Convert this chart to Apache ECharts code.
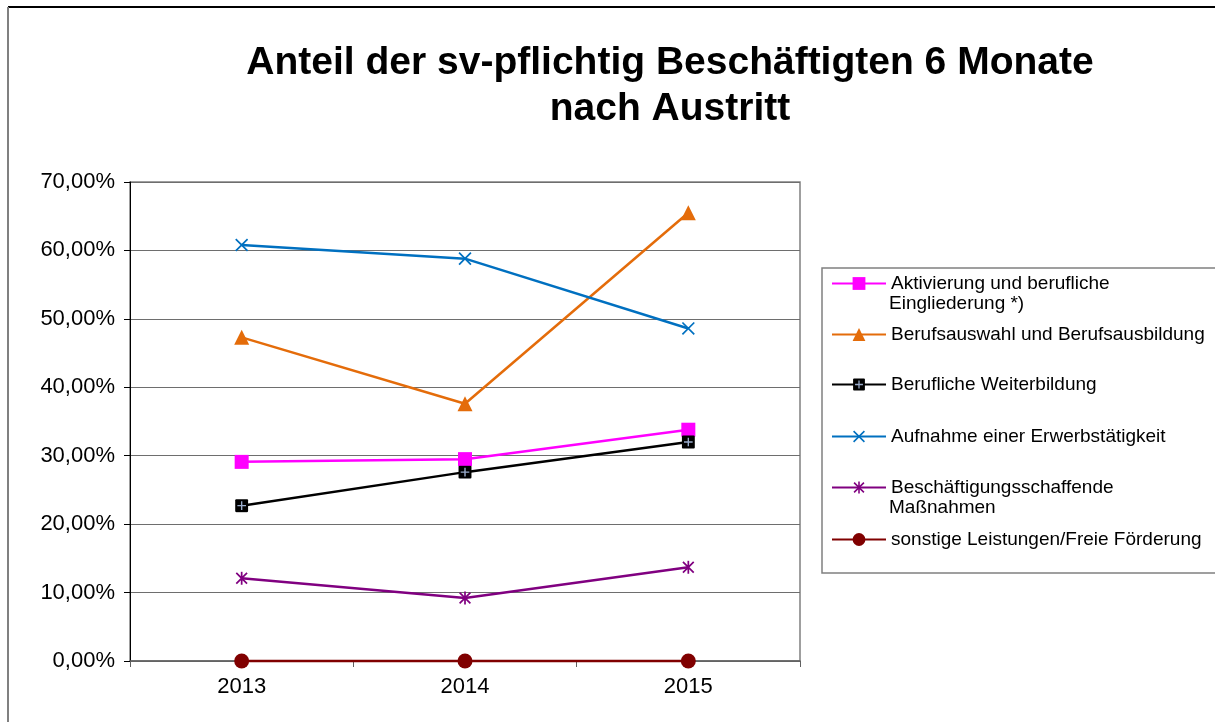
<!DOCTYPE html>
<html>
<head>
<meta charset="utf-8">
<script src="https://cdn.jsdelivr.net/npm/echarts@6/dist/echarts.min.js"></script>
<style>html,body{margin:0;padding:0;background:#fff;}#chart{width:1215px;height:722px;}</style>
</head>
<body>
<div id="chart"></div>
<script>
const categories = ['2013', '2014', '2015'];
const seriesNames = [
  'Aktivierung und berufliche Eingliederung *)',
  'Berufsauswahl und Berufsausbildung',
  'Berufliche Weiterbildung',
  'Aufnahme einer Erwerbstätigkeit',
  'Beschäftigungsschaffende Maßnahmen',
  'sonstige Leistungen/Freie Förderung'
];
const aktivierung = [29.1, 29.5, 33.8];
const berufsauswahl = [47.3, 37.6, 65.5];
const weiterbildung = [22.7, 27.6, 32.0];
const aufnahme = [60.8, 58.8, 48.6];
const beschaeftigung = [12.1, 9.2, 13.7];
const sonstige = [0, 0, 0];
const legendFirstLines = ['Aktivierung und berufliche', 'Berufsauswahl und Berufsausbildung', 'Berufliche Weiterbildung', 'Aufnahme einer Erwerbstätigkeit', 'Beschäftigungsschaffende', 'sonstige Leistungen/Freie Förderung'];
const legendSecondLines = ['Eingliederung *)', '', '', '', 'Maßnahmen', ''];
const titleText = 'Anteil der sv-pflichtig Beschäftigten 6 Monate\nnach Austritt';

function svgUri(svg) { return 'image://data:image/svg+xml;charset=utf-8,' + encodeURIComponent(svg); }
const plusSquare = svgUri('<svg xmlns="http://www.w3.org/2000/svg" width="26" height="26" viewBox="0 0 26 26"><rect x="1" y="1" width="24" height="24" rx="2" fill="#000"/><path d="M13 5 V21 M5 13 H21" stroke="#9aaccc" stroke-width="2.6"/></svg>');
const xMark = svgUri('<svg xmlns="http://www.w3.org/2000/svg" width="26" height="26" viewBox="0 0 26 26"><path d="M2 2 L24 24 M24 2 L2 24" stroke="#0070C0" stroke-width="3.2"/></svg>');
const starMark = svgUri('<svg xmlns="http://www.w3.org/2000/svg" width="26" height="26" viewBox="0 0 26 26"><path d="M3 3 L23 23 M23 3 L3 23 M13 1 V25" stroke="#800080" stroke-width="3.2"/></svg>');

const colors = ['#FF00FF', '#E46C0A', '#000000', '#0070C0', '#800080', '#800000'];
const datas = [aktivierung, berufsauswahl, weiterbildung, aufnahme, beschaeftigung, sonstige];
const symbols = ['rect', 'triangle', plusSquare, xMark, starMark, 'circle'];
const symbolSizes = [14, 15, 14, 14, 14, 15];
const legendCenters = [282, 333, 383, 435, 486, 538];

const font = '"Liberation Sans", Arial, sans-serif';
const series = datas.map((d, i) => ({
  name: seriesNames[i],
  type: 'line',
  data: d,
  symbol: symbols[i],
  symbolSize: symbolSizes[i],
  clip: false,
  lineStyle: { color: colors[i], width: 2.5 },
  itemStyle: { color: colors[i] },
  z: 10 + i
}));

const legends = seriesNames.map((n, i) => ({
  data: [n],
  left: 831,
  top: legendCenters[i] - 8,
  orient: 'vertical',
  padding: 0,
  itemWidth: 54,
  itemHeight: 16,
  selectedMode: false,
  formatter: () => legendFirstLines[i],
  textStyle: { fontFamily: font, fontSize: 19, color: '#000', lineHeight: 16, padding: [0, 0, 0, 0] }
}));

const graphics = [
  { type: 'line', shape: { x1: 8, y1: 7, x2: 1215, y2: 7 }, style: { stroke: '#000', lineWidth: 2 }, z: 0 },
  { type: 'line', shape: { x1: 8, y1: 7, x2: 8, y2: 722 }, style: { stroke: '#808080', lineWidth: 2 }, z: 0 },
  { type: 'rect', shape: { x: 822, y: 268, width: 420, height: 305 }, style: { fill: 'none', stroke: '#808080', lineWidth: 1.5 }, z: 0 },
  { type: 'text', x: 670, y: 40, style: { text: titleText, align: 'center', verticalAlign: 'top', font: 'bold 39px ' + font, lineHeight: 46, fill: '#000' }, z: 5 }
];
legendSecondLines.forEach((t, i) => {
  if (t) graphics.push({ type: 'text', x: 889, y: legendCenters[i] + 22, style: { text: t, align: 'left', verticalAlign: 'middle', font: '19px ' + font, fill: '#000' }, z: 5 });
});

const chart = echarts.init(document.getElementById('chart'), null, { renderer: 'canvas' });
chart.setOption({
  animation: false,
  backgroundColor: '#fff',
  color: colors,
  grid: { left: 130, right: 415, top: 182, bottom: 61, show: true, borderColor: '#808080', borderWidth: 1.5, containLabel: false },
  legend: legends,
  graphic: graphics,
  xAxis: {
    type: 'category',
    data: categories,
    boundaryGap: true,
    axisLine: { lineStyle: { color: '#606060', width: 1.5 } },
    axisTick: { show: true, length: 6, lineStyle: { color: '#606060' } },
    axisLabel: { fontFamily: font, fontSize: 22, color: '#000', margin: 15 }
  },
  yAxis: {
    type: 'value',
    min: 0, max: 70, interval: 10,
    axisLine: { show: true, lineStyle: { color: '#000', width: 1 } },
    axisTick: { show: true, length: 6, lineStyle: { color: '#000' } },
    splitLine: { show: true, lineStyle: { color: '#6e6e6e', width: 1.2 } },
    axisLabel: { fontFamily: font, fontSize: 22, color: '#000', margin: 15, formatter: v => v.toFixed(2).replace('.', ',') + '%' }
  },
  series: series
});
</script>
</body>
</html>
